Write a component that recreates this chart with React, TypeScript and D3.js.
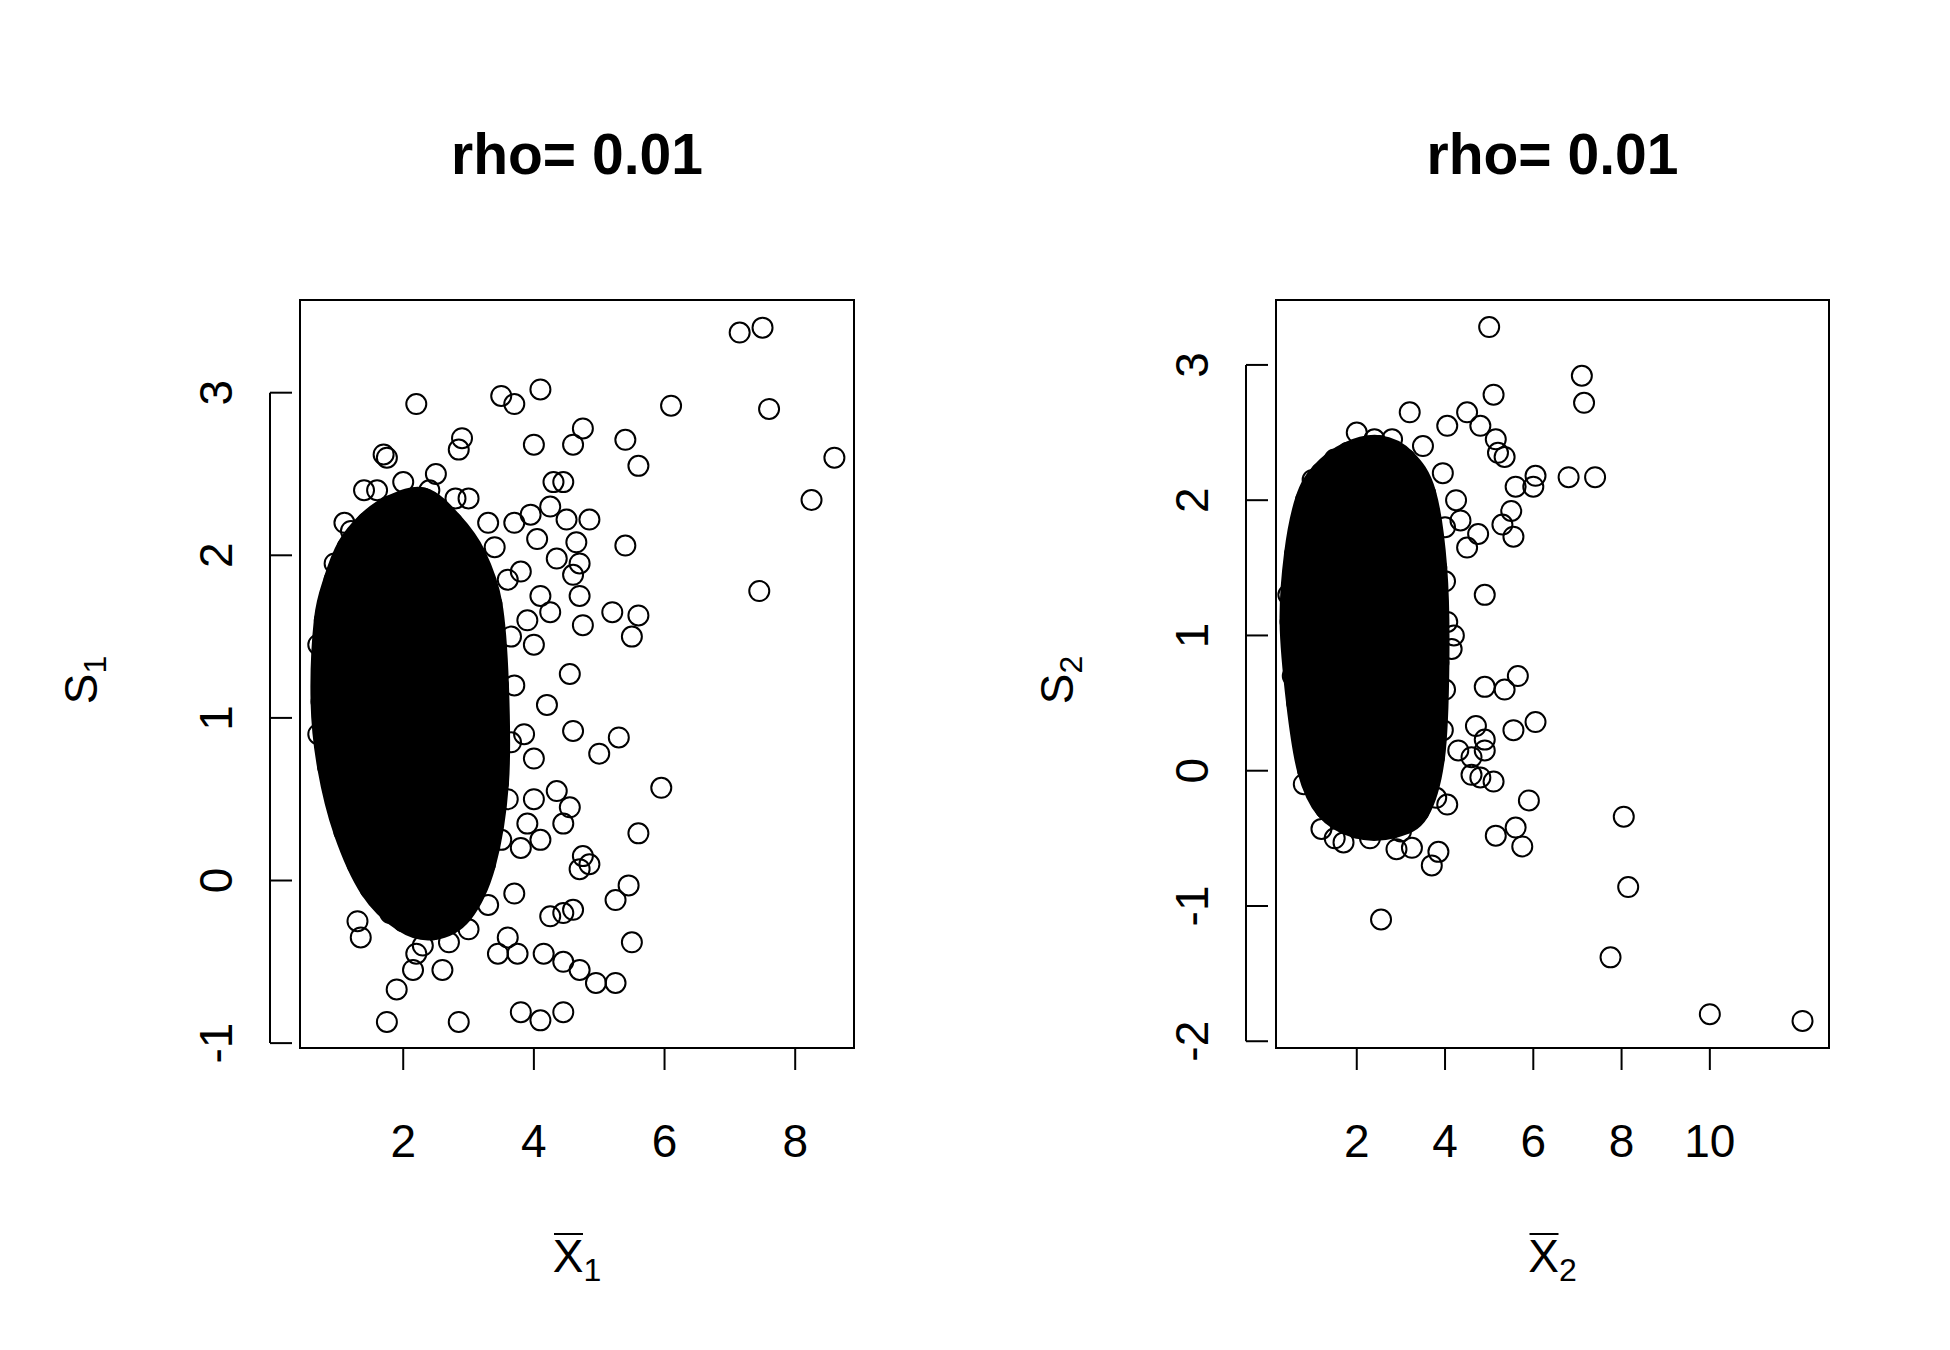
import React from "react";
import * as d3 from "d3";

type P = [number, number];

const leftCore: P[] = [[0.8,1.6],[0.95,1.85],[1.15,2.05],[1.45,2.2],[1.8,2.3],[2.3,2.35],[2.75,2.2],[3.1,2.0],[3.35,1.7],[3.45,1.2],[3.45,0.6],[3.25,0.1],[2.9,-0.2],[2.45,-0.3],[2.0,-0.25],[1.5,-0.05],[1.1,0.3],[0.85,0.7],[0.75,1.1]];
const leftPoints: P[] = [[7.15,3.37],[7.5,3.4],[7.6,2.9],[8.6,2.6],[8.25,2.34],[7.45,1.78],[6.1,2.92],[5.4,2.71],[5.6,2.55],[5.4,2.06],[5.2,1.65],[5.6,1.63],[5.5,1.5],[5.3,0.88],[5.0,0.78],[5.95,0.57],[5.6,0.29],[5.45,-0.03],[5.25,-0.12],[5.5,-0.38],[5.25,-0.63],[4.95,-0.63],[4.7,-0.55],[4.45,-0.5],[4.15,-0.45],[4.45,-0.2],[4.6,-0.18],[4.25,-0.22],[4.45,-0.81],[4.1,-0.86],[3.8,-0.81],[2.85,-0.87],[1.75,-0.87],[1.9,-0.67],[2.15,-0.55],[2.2,-0.45],[1.35,-0.35],[1.3,-0.25],[4.1,3.02],[3.5,2.98],[3.7,2.93],[2.2,2.93],[2.9,2.72],[2.85,2.65],[4.0,2.68],[4.6,2.68],[4.75,2.78],[4.3,2.45],[4.45,2.45],[4.25,2.3],[4.5,2.22],[4.85,2.22],[4.65,2.08],[4.05,2.1],[4.7,1.95],[4.6,1.88],[4.35,1.98],[4.1,1.75],[4.25,1.65],[4.7,1.75],[4.75,1.57],[4.55,1.27],[4.0,1.45],[4.2,1.08],[4.6,0.92],[4.0,0.75],[4.0,0.5],[4.35,0.55],[4.55,0.45],[4.45,0.35],[4.1,0.25],[4.75,0.15],[4.85,0.1],[4.7,0.07],[3.9,0.35],[3.7,-0.08],[3.6,-0.35],[3.75,-0.45],[3.45,-0.45],[1.7,2.62],[1.75,2.6],[1.1,2.2],[3.8,1.9],[3.9,1.6],[3.7,2.2],[3.95,2.25],[3.85,0.9],[3.8,0.2],[2.6,-0.55],[3.0,2.35],[1.4,2.4],[2.5,2.5],[3.6,1.85],[3.65,1.5],[3.7,1.2],[3.65,0.85],[3.6,0.5],[3.5,0.25],[3.3,-0.15],[3.0,-0.3],[2.7,-0.38],[2.3,-0.4],[1.8,-0.2],[1.3,0.1],[1.6,2.4],[2.0,2.45],[2.4,2.4],[2.8,2.35],[3.3,2.2],[3.4,2.05],[1.2,2.15],[0.95,1.95],[0.7,1.45],[0.7,0.9]];

const rightCore: P[] = [[0.6,1.6],[0.85,2.0],[1.2,2.2],[1.8,2.35],[2.5,2.4],[3.1,2.3],[3.55,2.05],[3.8,1.5],[3.85,0.8],[3.75,0.1],[3.4,-0.3],[2.8,-0.42],[2.0,-0.42],[1.3,-0.28],[0.9,0.0],[0.65,0.5],[0.5,1.1]];
const rightPoints: P[] = [[5.0,3.28],[7.1,2.92],[7.15,2.72],[6.8,2.17],[7.4,2.17],[5.1,2.78],[4.5,2.65],[4.8,2.55],[5.15,2.45],[4.05,2.55],[5.2,2.35],[5.35,2.32],[6.05,2.18],[6.0,2.1],[5.6,2.1],[5.5,1.92],[5.3,1.82],[5.55,1.73],[4.75,1.75],[4.5,1.65],[4.25,2.0],[4.35,1.85],[4.9,1.3],[4.9,0.62],[5.35,0.6],[5.65,0.7],[6.05,0.36],[5.55,0.3],[4.7,0.33],[4.9,0.23],[4.9,0.15],[4.6,0.1],[4.3,0.15],[5.1,-0.08],[4.8,-0.05],[4.6,-0.03],[5.9,-0.22],[5.6,-0.42],[5.75,-0.56],[5.15,-0.48],[8.05,-0.34],[8.15,-0.86],[7.75,-1.38],[10.0,-1.8],[12.1,-1.85],[2.55,-1.1],[3.85,-0.6],[3.7,-0.7],[3.25,-0.57],[2.9,-0.58],[1.5,-0.5],[1.7,-0.53],[1.2,-0.43],[4.05,-0.25],[3.8,-0.2],[4.15,0.9],[4.2,1.0],[3.2,2.65],[2.4,2.45],[2.0,2.5],[3.95,2.2],[4.0,1.8],[4.0,1.4],[4.05,1.1],[4.0,0.6],[3.95,0.3],[1.0,2.15],[1.5,2.3],[2.8,2.45],[3.5,2.4],[0.45,1.3],[0.55,0.7],[0.8,-0.1],[2.3,-0.5],[3.0,-0.45]];

const leftXTicks = [2, 4, 6, 8];
const leftYTicks = [-1, 0, 1, 2, 3];
const rightXTicks = [2, 4, 6, 8, 10];
const rightYTicks = [-2, -1, 0, 1, 2, 3];
const titles = ["rho= 0.01", "rho= 0.01"];

const FONT = "'Liberation Sans', Arial, sans-serif";
const R = 10;

function Panel(props: { x0: number; x1: number; xd: [number, number]; yd: [number, number]; xt: number[]; yt: number[]; core: P[]; pts: P[]; title: string; idx: number }) {
  const { x0, x1, xd, yd, xt, yt, core, pts, title, idx } = props;
  const top = 300, bottom = 1048;
  const xs = d3.scaleLinear().domain(xd).range([x0, x1]);
  const ys = d3.scaleLinear().domain(yd).range([bottom, top]);
  const line = d3.line<P>().x(d => xs(d[0])).y(d => ys(d[1])).curve(d3.curveCardinalClosed);
  const cx = (x0 + x1) / 2;
  return (
    <g>
      <text x={cx} y={174} textAnchor="middle" fontSize={57} fontWeight="bold" fontFamily={FONT}>{title}</text>
      <path d={line(core) || ""} fill="#000" stroke="#000" strokeWidth={2 * R + 2} strokeLinejoin="round" />
      {core.map((p, i) => <circle key={"c" + i} cx={xs(p[0])} cy={ys(p[1])} r={R} fill="none" stroke="#000" strokeWidth={2} />)}
      {pts.map((p, i) => <circle key={i} cx={xs(p[0])} cy={ys(p[1])} r={R} fill="none" stroke="#000" strokeWidth={2} />)}
      <rect x={x0} y={top} width={x1 - x0} height={bottom - top} fill="none" stroke="#000" strokeWidth={2} />
      <line x1={xs(xt[0])} x2={xs(xt[xt.length - 1])} y1={bottom + 0} y2={bottom + 0} stroke="#000" strokeWidth={2} />
      {xt.map(t => (
        <g key={t}>
          <line x1={xs(t)} x2={xs(t)} y1={bottom} y2={bottom + 22} stroke="#000" strokeWidth={2} />
          <text x={xs(t)} y={1157} textAnchor="middle" fontSize={46} fontFamily={FONT}>{t}</text>
        </g>
      ))}
      <line x1={x0 - 30} x2={x0 - 30} y1={ys(yt[0])} y2={ys(yt[yt.length - 1])} stroke="#000" strokeWidth={2} />
      {yt.map(t => (
        <g key={t}>
          <line x1={x0 - 30} x2={x0 - 8} y1={ys(t)} y2={ys(t)} stroke="#000" strokeWidth={2} />
          <text transform={`translate(${x0 - 68},${ys(t)}) rotate(-90)`} textAnchor="middle" fontSize={46} fontFamily={FONT}>{t}</text>
        </g>
      ))}
      <text x={cx} y={1272} textAnchor="middle" fontSize={46} fontFamily={FONT}>X<tspan fontSize={32} dy={9}>{idx}</tspan></text>
      <line x1={cx - 23} x2={cx + 6} y1={1234} y2={1234} stroke="#000" strokeWidth={2} />
      <text transform={`translate(${x0 - 203},${680}) rotate(-90)`} textAnchor="middle" fontSize={46} fontFamily={FONT}>S<tspan fontSize={32} dy={9}>{idx}</tspan></text>
    </g>
  );
}

export default function App() {
  return (
    <div style={{ position: "absolute", left: 0, top: 0 }}>
      <svg width={1950} height={1350} style={{ display: "block", background: "#fff" }}>
        <rect width={1950} height={1350} fill="#fff" />
        <Panel x0={300} x1={854} xd={[0.42, 8.9]} yd={[-1.03, 3.57]} xt={leftXTicks} yt={leftYTicks} core={leftCore} pts={leftPoints} title={titles[0]} idx={1} />
        <Panel x0={1276} x1={1829} xd={[0.17, 12.7]} yd={[-2.05, 3.48]} xt={rightXTicks} yt={rightYTicks} core={rightCore} pts={rightPoints} title={titles[1]} idx={2} />
      </svg>
    </div>
  );
}
